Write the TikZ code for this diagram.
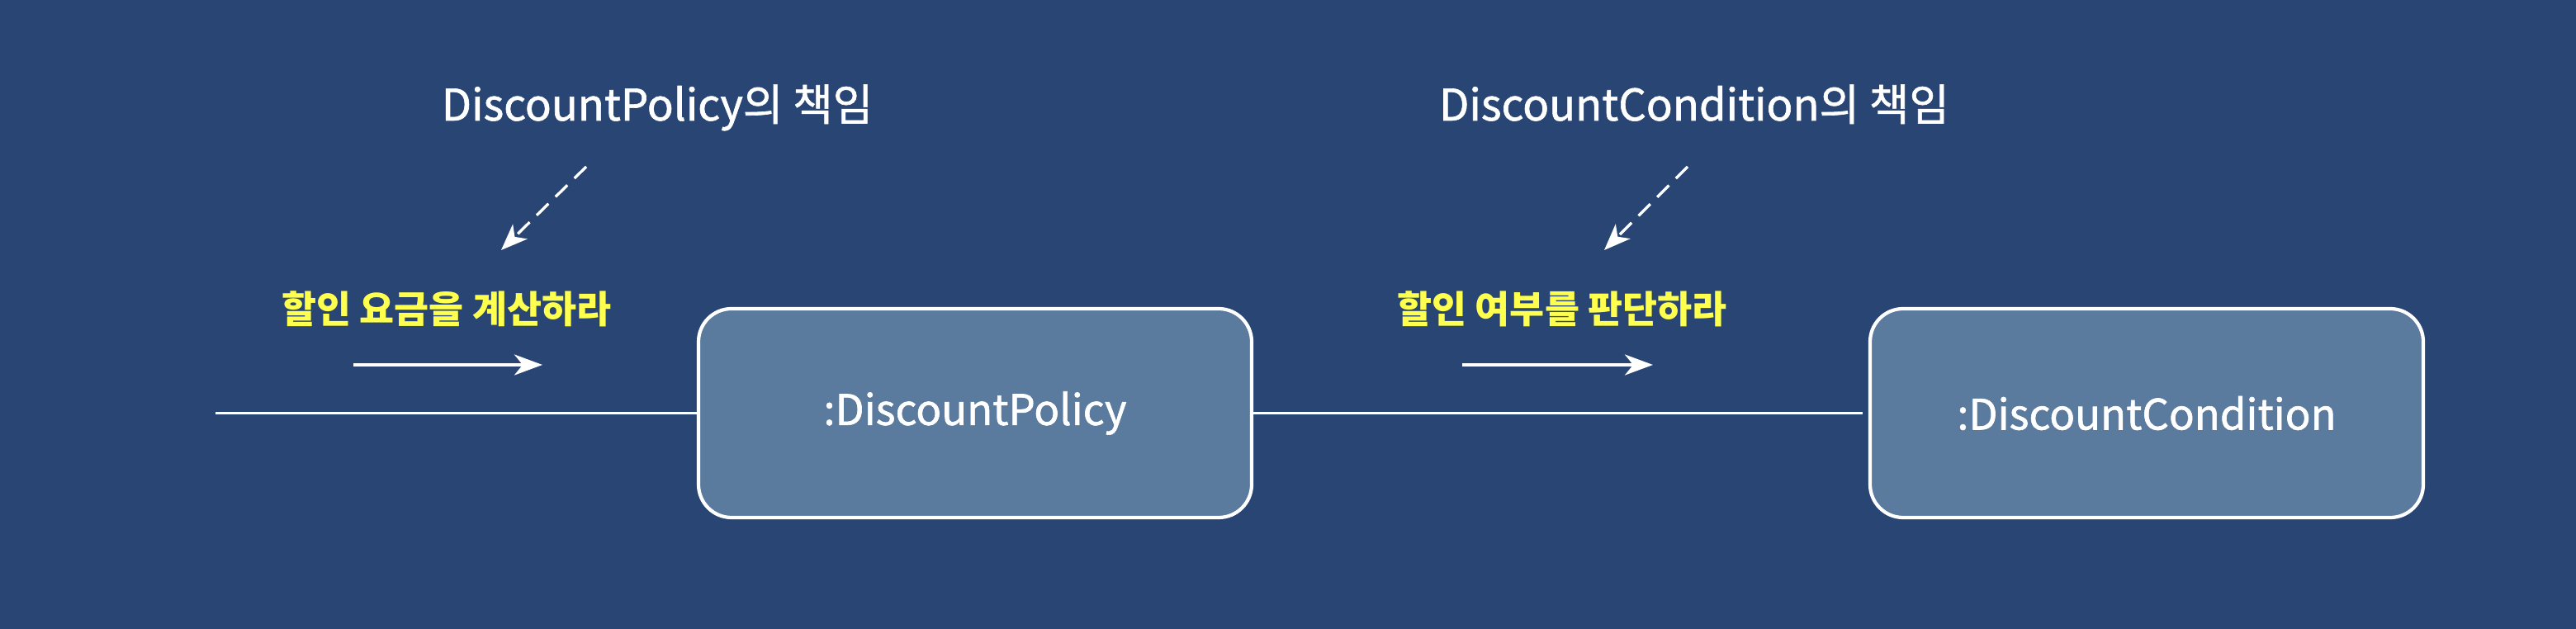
\documentclass[tikz,border=0pt]{standalone}
\usepackage{xcolor}
\usepackage{fontspec}
\setmainfont{Noto Sans CJK KR}
\newfontfamily\medfont{Noto Sans CJK KR}[FakeBold=1.2]
\usepackage{tikz}
\usetikzlibrary{arrows.meta, positioning}
\definecolor{mynavy}{RGB}{40,69,116}
\definecolor{myslate}{RGB}{90,122,158}
\definecolor{myyellow}{RGB}{255,255,77}
\tikzset{
  objbox/.style={rectangle, draw=white, fill=myslate,
    minimum width=6.7cm, minimum height=2.53cm,
    font=\medfont\fontsize{14.5}{17}\selectfont, text=white,
    rounded corners=0.4cm, line width=1.2pt},
  msglabel/.style={font=\bfseries\fontsize{13}{16}\selectfont, text=myyellow},
  rolelabel/.style={font=\medfont\fontsize{15}{18}\selectfont, text=white},
  link/.style={white, line width=1.05pt},
  msgarrow/.style={-{Stealth[length=3.4mm, width=2.5mm, inset=1mm]}, white, line width=1.05pt},
  notearrow/.style={-{Stealth[length=3.2mm, width=2.5mm, inset=0.9mm]}, white,
    line width=0.95pt, dash pattern=on 0.2cm off 0.12cm}
}

\begin{document}
\begin{tikzpicture}
  % Background
  \fill[mynavy] (0,0) rectangle (31.2,7.62);
  \useasboundingbox (0,0) rectangle (31.2,7.62);

  % Objects
  \node[objbox] (policy) at (11.81,2.615) {:DiscountPolicy};
  \node[objbox] (condition) at (26.0,2.615) {:DiscountCondition};

  % Links between objects
  \coordinate (entry) at (2.61,2.615);
  \draw[link] (entry) -- (policy);
  \draw[link, shorten >=0.07cm] (policy) -- (condition);

  % Messages
  \node[msglabel, anchor=base] (calc) at (5.41,3.70) {할인 요금을 계산하라};
  \coordinate (calcS) at (4.28,3.20);
  \coordinate (calcE) at (6.57,3.20);
  \draw[msgarrow] (calcS) -- (calcE);

  \node[msglabel, anchor=base] (check) at (18.92,3.70) {할인 여부를 판단하라};
  \coordinate (checkS) at (17.71,3.20);
  \coordinate (checkE) at (20.02,3.20);
  \draw[msgarrow] (checkS) -- (checkE);

  % Responsibilities
  \node[rolelabel, anchor=base] (policyRole) at (7.96,6.16) {DiscountPolicy의 책임};
  \coordinate (policyTail) at (7.10,5.60);
  \coordinate (policyTip) at (6.07,4.59);
  \draw[notearrow] (policyTail) -- (policyTip);

  \node[rolelabel, anchor=base] (conditionRole) at (20.52,6.16) {DiscountCondition의 책임};
  \coordinate (conditionTail) at (20.44,5.60);
  \coordinate (conditionTip) at (19.43,4.59);
  \draw[notearrow] (conditionTail) -- (conditionTip);
\end{tikzpicture}
\end{document}
